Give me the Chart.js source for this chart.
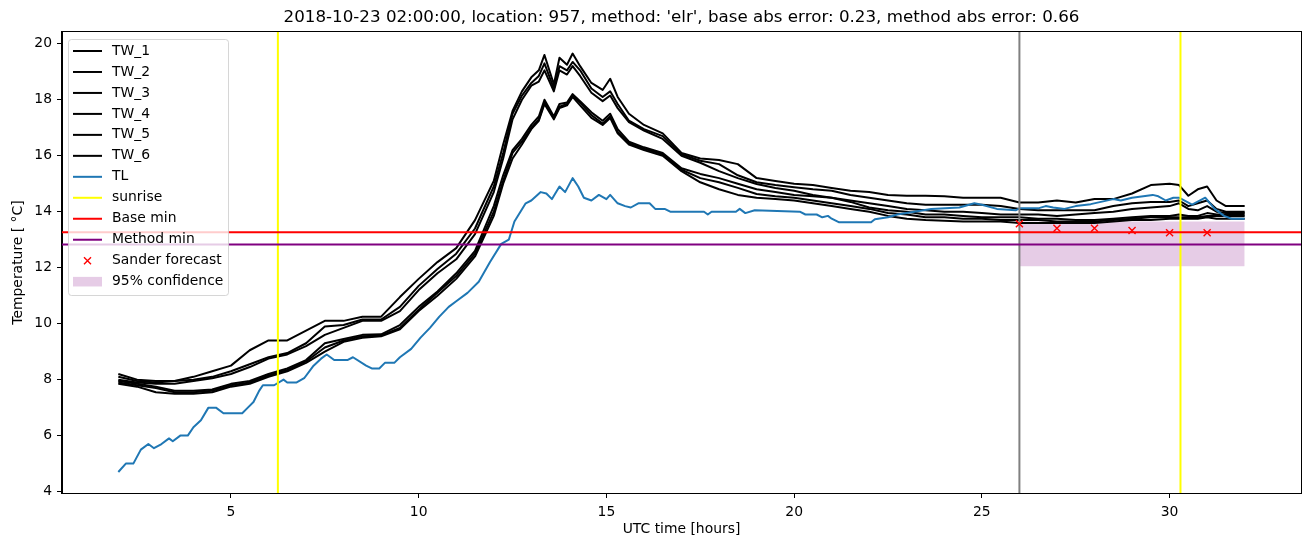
<!DOCTYPE html>
<html><head><meta charset="utf-8">
<script src="https://cdn.jsdelivr.net/npm/chart.js@4.4.1/dist/chart.umd.min.js"></script>
<style>html,body{margin:0;padding:0;background:#fff;}#wrap{width:1311px;height:547px;}</style>
</head><body><div id="wrap"><canvas id="c" width="1311" height="547"></canvas></div>
<script>
const TITLE = "2018-10-23 02:00:00, location: 957, method: 'elr', base abs error: 0.23, method abs error: 0.66";
const X_LABEL = "UTC time [hours]";
const Y_LABEL = "Temperature [ °C]";
const X_TICKS = [5, 10, 15, 20, 25, 30];
const Y_TICKS = [4, 6, 8, 10, 12, 14, 16, 18, 20];
const X_RANGE = [0.5, 33.5];
const Y_RANGE = [3.95, 20.42];

const T = [2,2.5,3,3.5,4,4.5,5,5.5,6,6.5,
 7,7.5,8,8.5,9,9.5,10,10.5,11,11.5,
 12,12.25,12.5,12.75,13,13.2,13.35,13.6,13.75,13.95,
 14.1,14.3,14.6,14.9,15.1,15.3,15.6,16,16.5,17,
 17.5,18,18.5,19,19.5,20,20.5,21,21.5,22,
 22.5,23,23.5,24,24.5,25,25.5,26,26.5,27,
 27.5,28,28.5,29,29.5,30,30.25,30.5,30.75,31,
 31.25,31.5,32];

const TW_1 = [8.2,8.0,7.95,7.95,8.1,8.3,8.5,9.05,9.4,9.4,
 9.75,10.1,10.1,10.25,10.25,10.95,11.6,12.2,12.7,13.7,
 15.1,16.4,17.6,18.3,18.8,19.05,19.6,18.55,19.5,19.25,
 19.65,19.2,18.6,18.35,18.75,18.1,17.5,17.1,16.8,16.1,
 15.9,15.85,15.7,15.2,15.1,15.0,14.95,14.85,14.75,14.7,
 14.6,14.57,14.57,14.55,14.5,14.5,14.5,14.33,14.33,14.4,
 14.33,14.45,14.45,14.65,14.95,15.0,14.95,14.57,14.8,14.9,
 14.4,14.2,14.2];
const TW_2 = [8.1,7.95,7.9,7.95,8.0,8.1,8.3,8.55,8.8,8.95,
 9.3,9.9,9.95,10.15,10.15,10.6,11.35,11.95,12.5,13.4,
 14.9,16.1,17.5,18.15,18.6,18.85,19.3,18.4,19.2,19.05,
 19.35,19.05,18.4,18.1,18.3,17.85,17.25,16.95,16.7,16.05,
 15.82,15.7,15.3,15.05,14.95,14.87,14.8,14.75,14.6,14.5,
 14.4,14.3,14.25,14.25,14.25,14.25,14.2,14.1,14.05,14.05,
 14.05,14.05,14.2,14.3,14.35,14.35,14.4,14.2,14.3,14.4,
 14.1,14.0,14.0];
const TW_3 = [8.0,7.9,7.85,7.85,7.95,8.05,8.2,8.45,8.75,8.9,
 9.2,9.6,9.85,10.1,10.1,10.45,11.2,11.8,12.3,13.2,
 14.7,15.9,17.3,18.0,18.5,18.65,19.05,18.3,19.05,18.9,
 19.2,18.85,18.25,17.95,18.15,17.7,17.2,16.9,16.6,16.0,
 15.75,15.45,15.2,14.99,14.85,14.75,14.6,14.5,14.4,14.3,
 14.2,14.1,14.05,14.0,14.0,13.95,13.9,13.9,13.9,13.85,
 13.9,13.95,14.0,14.1,14.15,14.2,14.3,14.1,14.05,14.2,
 14.0,13.95,13.95];
const TW_4 = [7.95,7.85,7.75,7.6,7.6,7.65,7.85,7.95,8.2,8.4,
 8.7,9.3,9.45,9.6,9.62,9.95,10.6,11.15,11.8,12.6,
 14.2,15.3,16.2,16.6,17.1,17.4,18.0,17.4,17.85,17.9,
 18.2,17.95,17.55,17.25,17.5,16.95,16.5,16.3,16.1,15.55,
 15.35,15.2,15.0,14.8,14.7,14.6,14.55,14.5,14.35,14.15,
 14.05,14.0,13.9,13.9,13.85,13.8,13.8,13.8,13.75,13.75,
 13.7,13.7,13.75,13.8,13.85,13.85,13.9,13.85,13.85,13.95,
 13.9,13.9,13.9];
const TW_5 = [7.9,7.8,7.7,7.55,7.55,7.6,7.8,7.9,8.15,8.35,
 8.65,9.15,9.4,9.55,9.58,9.85,10.5,11.1,11.7,12.5,
 14.0,15.1,16.1,16.5,17.0,17.3,17.9,17.35,17.75,17.85,
 18.15,17.9,17.45,17.15,17.4,16.85,16.45,16.25,16.05,15.5,
 15.2,15.05,14.85,14.63,14.55,14.5,14.4,14.3,14.2,14.1,
 13.95,13.9,13.8,13.8,13.75,13.75,13.7,13.7,13.7,13.65,
 13.65,13.65,13.7,13.75,13.8,13.8,13.8,13.8,13.8,13.85,
 13.85,13.85,13.85];
const TW_6 = [7.85,7.75,7.55,7.5,7.5,7.55,7.75,7.85,8.1,8.3,
 8.6,9.0,9.35,9.5,9.55,9.8,10.45,11.0,11.6,12.4,
 13.85,15.0,15.9,16.4,16.95,17.25,17.85,17.3,17.7,17.8,
 18.1,17.8,17.35,17.1,17.35,16.8,16.4,16.2,16.0,15.45,
 15.05,14.8,14.6,14.5,14.45,14.4,14.3,14.2,14.1,14.0,
 13.85,13.75,13.7,13.68,13.65,13.65,13.65,13.6,13.6,13.6,
 13.6,13.6,13.65,13.7,13.7,13.75,13.75,13.75,13.75,13.8,
 13.75,13.75,13.75];

const TL_T = [2,2.2,2.4,2.6,2.8,2.95,3.15,3.35,3.45,3.65,3.85,4.0,4.2,4.4,4.6,4.8,5.3,5.45,5.6,5.75,
 5.85,6.15,6.4,6.5,6.75,6.95,7.2,7.4,7.55,7.75,8.1,8.25,8.6,8.75,8.95,9.1,9.35,9.5,9.8,10.05,
 10.3,10.55,10.8,11.0,11.3,11.6,11.9,12.2,12.4,12.55,12.85,13.0,13.25,13.4,13.55,13.75,13.9,14.1,14.25,14.4,
 14.6,14.8,15.0,15.1,15.3,15.5,15.65,15.85,16.15,16.3,16.55,16.7,17.6,17.7,17.8,18.45,18.55,18.7,18.95,20.15,
 20.3,20.6,20.75,20.9,21.0,21.2,22.05,22.15,22.5,22.75,23.2,23.65,24.4,24.8,25.0,25.4,25.9,26.0,26.5,26.7,
 26.9,27.2,27.5,27.9,28.5,28.7,29.0,29.55,29.7,29.9,30.1,30.25,30.6,30.95,31.2,31.45,31.65,32];
const TL_V = [4.7,5.0,5.0,5.5,5.7,5.55,5.7,5.9,5.8,6.0,6.0,6.3,6.55,7.0,7.0,6.8,6.8,7.0,7.2,7.6,
 7.8,7.8,8.0,7.9,7.9,8.05,8.5,8.75,8.9,8.7,8.7,8.8,8.5,8.4,8.4,8.6,8.6,8.8,9.1,9.5,
 9.85,10.25,10.6,10.8,11.1,11.5,12.2,12.85,13.0,13.65,14.3,14.4,14.7,14.65,14.45,14.9,14.7,15.2,14.9,14.5,
 14.4,14.6,14.45,14.6,14.3,14.2,14.15,14.3,14.3,14.1,14.1,14.0,14.0,13.9,14.0,14.0,14.1,13.95,14.05,14.0,
 13.9,13.9,13.8,13.85,13.75,13.62,13.62,13.73,13.8,13.9,14.0,14.1,14.15,14.3,14.25,14.1,14.05,14.12,14.12,14.2,
 14.15,14.1,14.2,14.27,14.45,14.4,14.5,14.6,14.55,14.4,14.5,14.5,14.25,14.5,14.1,13.85,13.75,13.75];

const SUNRISE = [6.25, 30.29];
const ISSUE_T = 26;
const BASE_MIN = 13.27;
const METHOD_MIN = 12.83;
const SANDER_T = [26, 27, 28, 29, 30, 31];
const SANDER_V = [13.57, 13.41, 13.41, 13.33, 13.25, 13.25];
const CONF_T = [26, 32];
const CONF_LOW = 12.05;
const CONF_HIGH = 13.65;

const FONT = "DejaVu Sans";
const FS = 13.9;
const pts = (xs, ys) => xs.map((x, i) => ({x: x, y: ys[i]}));
const lineDs = (label, data, color, order, extra) => Object.assign({
  label: label, data: data, borderColor: color, backgroundColor: color, borderWidth: 2,
  pointRadius: 0, tension: 0, fill: false, order: order, spanGaps: false,
  borderJoinStyle: 'round', legendKind: 'line'
}, extra || {});

const TWS = [TW_1, TW_2, TW_3, TW_4, TW_5, TW_6];
const datasets = [];
TWS.forEach((arr, i) => datasets.push(lineDs('TW_' + (i + 1), pts(T, arr), '#000000', 50 - i)));
datasets.push(lineDs('TL', pts(TL_T, TL_V), '#1f77b4', 43));
datasets.push(lineDs('', [{x: ISSUE_T, y: Y_RANGE[0]}, {x: ISSUE_T, y: Y_RANGE[1]}], '#808080', 42, {legendKind: 'none'}));
const sunData = [];
SUNRISE.forEach((s, i) => { if (i) sunData.push({x: s, y: null}); sunData.push({x: s, y: Y_RANGE[0]}, {x: s, y: Y_RANGE[1]}); });
datasets.push(lineDs('sunrise', sunData, '#ffff00', 41));
datasets.push(lineDs('Base min', [{x: X_RANGE[0], y: BASE_MIN}, {x: X_RANGE[1], y: BASE_MIN}], '#ff0000', 40));
datasets.push(lineDs('Method min', [{x: X_RANGE[0], y: METHOD_MIN}, {x: X_RANGE[1], y: METHOD_MIN}], '#800080', 39));
datasets.push({label: 'Sander forecast', data: pts(SANDER_T, SANDER_V), showLine: false,
  pointStyle: 'crossRot', pointRadius: 5, pointBorderWidth: 1.4, pointBorderColor: '#ff0000',
  pointBackgroundColor: '#ff0000', borderColor: '#ff0000', order: 38, legendKind: 'marker'});
datasets.push({label: '95% confidence', data: CONF_T.map(x => ({x: x, y: CONF_HIGH})),
  borderWidth: 0, pointRadius: 0, borderColor: 'rgba(0,0,0,0)', backgroundColor: 'rgba(128,0,128,0.2)',
  fill: {value: CONF_LOW}, order: 60, legendKind: 'patch', tension: 0});

const decor = {
  id: 'decor',
  afterDraw(chart) {
    const ctx = chart.ctx, a = chart.chartArea;
    ctx.save();
    ctx.strokeStyle = '#000'; ctx.lineWidth = 1;
    ctx.strokeRect(Math.round(a.left) - 0.5, Math.round(a.top) - 0.5, Math.round(a.right - a.left) + 1, Math.round(a.bottom - a.top) + 1);
    const cx = (a.left + a.right) / 2, cy = (a.top + a.bottom) / 2;
    ctx.fillStyle = '#000'; ctx.textAlign = 'center'; ctx.textBaseline = 'middle';
    ctx.font = '16.7px "' + FONT + '"';
    ctx.fillText(TITLE, cx, 18);
    ctx.font = FS + 'px "' + FONT + '"';
    ctx.fillText(X_LABEL, cx, 529);
    ctx.save(); ctx.translate(18, cy); ctx.rotate(-Math.PI / 2); ctx.fillText(Y_LABEL, 0, 0); ctx.restore();
    const items = chart.data.datasets.filter(d => d.legendKind !== 'none');
    const bx = 68.5, by = 39.5, bw = 160, bh = 256, r = 3;
    ctx.beginPath();
    ctx.moveTo(bx + r, by); ctx.lineTo(bx + bw - r, by); ctx.arcTo(bx + bw, by, bx + bw, by + r, r);
    ctx.lineTo(bx + bw, by + bh - r); ctx.arcTo(bx + bw, by + bh, bx + bw - r, by + bh, r);
    ctx.lineTo(bx + r, by + bh); ctx.arcTo(bx, by + bh, bx, by + bh - r, r);
    ctx.lineTo(bx, by + r); ctx.arcTo(bx, by, bx + r, by, r); ctx.closePath();
    ctx.fillStyle = 'rgba(255,255,255,0.8)'; ctx.fill();
    ctx.strokeStyle = 'rgba(204,204,204,0.8)'; ctx.lineWidth = 1; ctx.stroke();
    items.forEach((d, i) => {
      const y = 51 + i * 20.97;
      if (d.legendKind === 'line') {
        ctx.strokeStyle = d.borderColor; ctx.lineWidth = 2;
        ctx.beginPath(); ctx.moveTo(73, y); ctx.lineTo(102, y); ctx.stroke();
      } else if (d.legendKind === 'marker') {
        ctx.strokeStyle = d.pointBorderColor; ctx.lineWidth = 1.4;
        const s = 3.5, mx = 87.5;
        ctx.beginPath(); ctx.moveTo(mx - s, y - s); ctx.lineTo(mx + s, y + s);
        ctx.moveTo(mx - s, y + s); ctx.lineTo(mx + s, y - s); ctx.stroke();
      } else if (d.legendKind === 'patch') {
        ctx.fillStyle = d.backgroundColor; ctx.fillRect(73, y - 4.8, 29, 9.6);
      }
      ctx.fillStyle = '#000'; ctx.textAlign = 'left'; ctx.textBaseline = 'middle';
      ctx.fillText(d.label, 112, y);
    });
    ctx.restore();
  }
};

new Chart(document.getElementById('c'), {
  type: 'line',
  data: {datasets: datasets},
  options: {
    responsive: false, animation: false, devicePixelRatio: 1,
    layout: {padding: {left: 0, right: 10, top: 32, bottom: 0}},
    plugins: {legend: {display: false}, tooltip: {enabled: false}, title: {display: false}},
    scales: {
      x: {type: 'linear', min: X_RANGE[0], max: X_RANGE[1],
        afterBuildTicks: s => { s.ticks = X_TICKS.map(v => ({value: v})); },
        afterFit: s => { s.height = 54; },
        grid: {drawOnChartArea: false, drawTicks: true, tickLength: 5, tickColor: '#000', tickWidth: 1},
        border: {display: true, color: '#000', width: 1},
        ticks: {color: '#000', font: {family: FONT, size: FS}, padding: 6, maxRotation: 0, autoSkip: false,
          callback: v => String(v)}},
      y: {type: 'linear', min: Y_RANGE[0], max: Y_RANGE[1],
        afterBuildTicks: s => { s.ticks = Y_TICKS.map(v => ({value: v})); },
        afterFit: s => { s.width = 62; },
        grid: {drawOnChartArea: false, drawTicks: true, tickLength: 5, tickColor: '#000', tickWidth: 1},
        border: {display: true, color: '#000', width: 1},
        ticks: {color: '#000', font: {family: FONT, size: FS}, padding: 5, autoSkip: false,
          callback: v => String(v)}}
    }
  },
  plugins: [decor]
});
</script></body></html>
